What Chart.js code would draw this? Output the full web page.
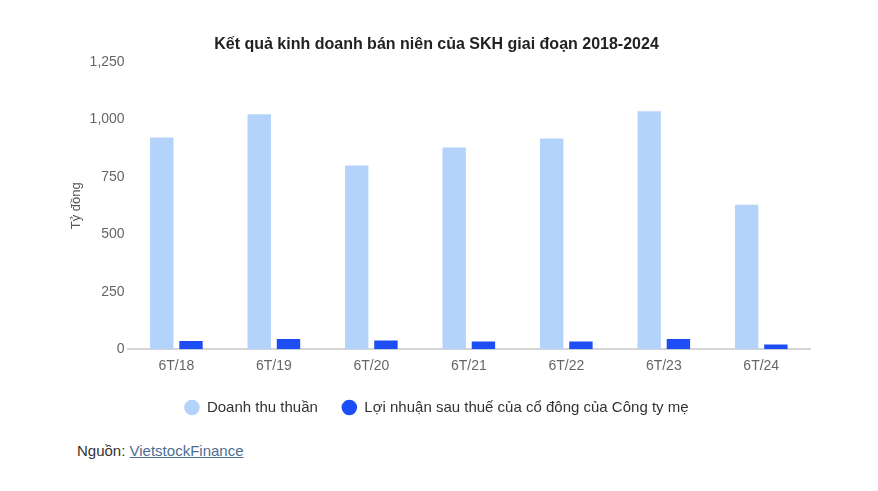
<!DOCTYPE html>
<html lang="vi">
<head>
  <meta charset="UTF-8" />
  <title>Kết quả kinh doanh SKH</title>
  <script src="https://cdn.jsdelivr.net/npm/chart.js"></script>
  <style>
    body {
      margin: 0;
      background: #fff;
      font-family: "Liberation Sans", Arial, sans-serif;
    }
    .khung {
      position: relative;
      width: 878px;
      height: 430px;
    }
    .nguon {
      position: absolute;
      left: 77px;
      top: 442px;
      font-size: 15px;
      color: #333;
    }
    .nguon a {
      color: #4a6f93;
    }
  </style>
</head>
<body>
  <div class="khung"><canvas id="bieuDo"></canvas></div>
  <div class="nguon">Nguồn: <a href="#">VietstockFinance</a></div>

  <script>
    const kyBaoCao = ["6T/18", "6T/19", "6T/20", "6T/21", "6T/22", "6T/23", "6T/24"];
    const doanhThu = [922, 1023, 800, 878, 918, 1036, 629];
    const loiNhuan = [36, 44, 38, 33, 33, 44, 20];
    const mocTruc = [0, 250, 500, 750, 1000, 1250];

    const chu = "'Liberation Sans', Arial, sans-serif";

    new Chart(document.getElementById("bieuDo"), {
      type: 'bar',
      data: {
        labels: kyBaoCao,
        datasets: [
          {
            label: 'Doanh thu thuần',
            data: doanhThu,
            backgroundColor: '#b4d3fb',
            categoryPercentage: 0.6,
            barPercentage: 0.8
          },
          {
            label: 'Lợi nhuận sau thuế của cổ đông của Công ty mẹ',
            data: loiNhuan,
            backgroundColor: '#1d4ef5',
            categoryPercentage: 0.6,
            barPercentage: 0.8
          }
        ]
      },
      options: {
        responsive: true,
        maintainAspectRatio: false,
        animation: false,
        layout: { padding: { top: 35, left: 63, right: 68, bottom: 5 } },
        plugins: {
          title: {
            display: true,
            text: 'Kết quả kinh doanh bán niên của SKH giai đoạn 2018-2024',
            color: '#222',
            font: { family: chu, size: 16, weight: 'bold' },
            padding: { top: 0, bottom: 8 }
          },
          legend: {
            position: 'bottom',
            labels: {
              usePointStyle: true,
              pointStyle: 'circle',
              boxWidth: 15,
              boxHeight: 11,
              padding: 24,
              color: '#333',
              font: { family: chu, size: 15 }
            }
          },
          tooltip: { enabled: false }
        },
        scales: {
          x: {
            grid: { display: false },
            border: { color: '#d6d6d6', width: 2 },
            ticks: { color: '#666', font: { family: chu, size: 14 }, padding: 1 }
          },
          y: {
            min: 0,
            max: 1250,
            afterBuildTicks: s => { s.ticks = mocTruc.map(v => ({ value: v })); },
            grid: { display: false, drawTicks: false },
            border: { display: false },
            ticks: { color: '#666', font: { family: chu, size: 14 }, padding: 3 },
            title: {
              display: true,
              text: 'Tỷ đồng',
              color: '#555',
              font: { family: chu, size: 13 },
              padding: { top: 6, bottom: 2 }
            }
          }
        }
      }
    });
  </script>
</body>
</html>
